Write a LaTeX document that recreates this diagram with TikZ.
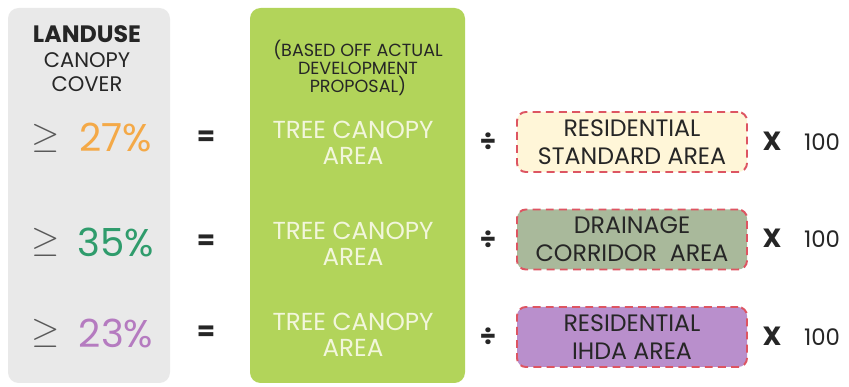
\documentclass[tikz,border=0pt]{standalone}
\usepackage{amsmath}
\usepackage{fontspec}
\setmainfont{Poppins}
\usetikzlibrary{calc}

\definecolor{panelgray}{HTML}{E9E9E9}
\definecolor{panelgreen}{HTML}{B2D45A}
\definecolor{treetext}{HTML}{F2F6DC}
\definecolor{pctorange}{HTML}{F4A947}
\definecolor{pctgreen}{HTML}{2F9C6C}
\definecolor{pctpurple}{HTML}{B57BC0}
\definecolor{dashred}{HTML}{DD5562}
\definecolor{fillcream}{HTML}{FFF6D8}
\definecolor{fillsage}{HTML}{A9B99B}
\definecolor{fillviolet}{HTML}{B98FCC}
\definecolor{inkdark}{HTML}{262626}

\tikzset{
  areabox/.style={draw=dashred, line width=1.1pt, dash pattern=on 4.5pt off 3pt,
    rounded corners=5pt, minimum width=4.6cm, minimum height=1.2cm,
    align=center, text=inkdark, font=\fontsize{13.5}{16}\selectfont, inner sep=0pt},
  treetxt/.style={text=treetext, align=center, font=\fontsize{14}{14.5}\selectfont},
  pct/.style={font=\fontsize{22}{24}\selectfont},
  geqsign/.style={text=black!65, font=\fontsize{21}{24}\selectfont},
  opsign/.style={text=inkdark, font=\fontsize{15}{16}\selectfont\bfseries},
  hundred/.style={text=inkdark, font=\fontsize{13}{14}\selectfont}
}

\begin{document}
\begin{tikzpicture}
  \useasboundingbox (0,0) rectangle (16.98,7.74);
  % panels
  \fill[panelgray, rounded corners=6pt] (0.16,0.08) rectangle (3.40,7.58);
  \fill[panelgreen, rounded corners=6pt] (5.00,0.08) rectangle (9.30,7.58);
  % headings
  \node[align=center, text=inkdark, font=\fontsize{12}{14}\selectfont] (title) at (1.74,6.56)
    {{\fontsize{13.5}{14}\selectfont\bfseries LANDUSE}\\CANOPY\\COVER};
  \node[align=center, text=inkdark, font=\fontsize{10}{10.4}\selectfont] (basis) at (7.16,6.38)
    {(BASED OFF ACTUAL\\DEVELOPMENT\\PROPOSAL)};
  % row 1
  \node[geqsign] (geqA) at (0.92,4.98) {$\geq$};
  \node[pct, text=pctorange] (pctA) at (2.32,4.98) {27\%};
  \node[opsign] (eqA) at (4.12,4.98) {=};
  \node[treetxt] (treeA) at (7.06,4.88) {TREE CANOPY\\AREA};
  \node[opsign] (divA) at (9.76,4.90) {÷};
  \node[areabox, fill=fillcream] (resA) at (12.64,4.90) {RESIDENTIAL\\STANDARD AREA};
  \node[opsign] (timesA) at (15.44,4.92) {X};
  \node[hundred] (hundA) at (16.44,4.90) {100};
  % row 2
  \node[geqsign] (geqB) at (0.92,2.90) {$\geq$};
  \node[pct, text=pctgreen] (pctB) at (2.32,2.90) {35\%};
  \node[opsign] (eqB) at (4.12,2.90) {=};
  \node[treetxt] (treeB) at (7.06,2.86) {TREE CANOPY\\AREA};
  \node[opsign] (divB) at (9.76,2.95) {÷};
  \node[areabox, fill=fillsage] (drainB) at (12.64,2.95) {DRAINAGE\\CORRIDOR\ \ AREA};
  \node[opsign] (timesB) at (15.44,2.97) {X};
  \node[hundred] (hundB) at (16.44,2.95) {100};
  % row 3
  \node[geqsign] (geqC) at (0.92,1.08) {$\geq$};
  \node[pct, text=pctpurple] (pctC) at (2.32,1.08) {23\%};
  \node[opsign] (eqC) at (4.12,1.08) {=};
  \node[treetxt] (treeC) at (7.06,1.04) {TREE CANOPY\\AREA};
  \node[opsign] (divC) at (9.76,1.00) {÷};
  \node[areabox, fill=fillviolet] (ihdaC) at (12.64,1.00) {RESIDENTIAL\\IHDA AREA};
  \node[opsign] (timesC) at (15.44,1.02) {X};
  \node[hundred] (hundC) at (16.44,1.00) {100};
\end{tikzpicture}
\end{document}
